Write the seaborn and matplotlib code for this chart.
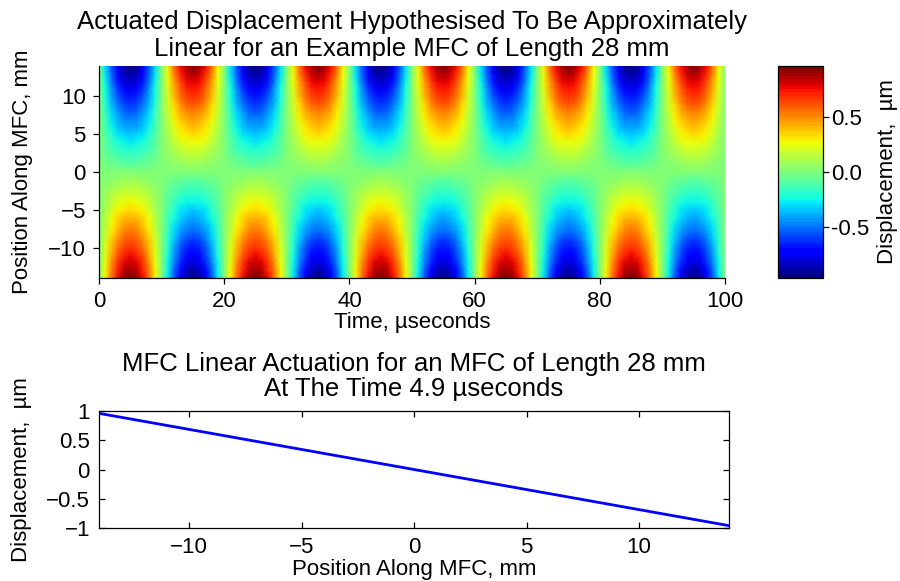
import numpy as np
import matplotlib
matplotlib.use("Agg")
import matplotlib.pyplot as plt
import seaborn as sns

# ---------------- data ----------------
# time axis of the field (µs) and amplitude of the actuation at each time step
time_us = list(range(0, 101))
time_amp = [
    0.00, 0.30, 0.57, 0.78, 0.92, 0.97, 0.92, 0.78, 0.57, 0.30,
    0.00, -0.29, -0.56, -0.77, -0.90, -0.95, -0.90, -0.77, -0.56, -0.29,
    0.00, 0.30, 0.57, 0.78, 0.92, 0.97, 0.92, 0.78, 0.57, 0.30,
    0.00, -0.29, -0.56, -0.77, -0.90, -0.95, -0.90, -0.77, -0.56, -0.29,
    0.00, 0.30, 0.57, 0.78, 0.92, 0.97, 0.92, 0.78, 0.57, 0.30,
    0.00, -0.29, -0.56, -0.77, -0.90, -0.95, -0.90, -0.77, -0.56, -0.29,
    0.00, 0.30, 0.57, 0.78, 0.92, 0.97, 0.92, 0.78, 0.57, 0.30,
    0.00, -0.29, -0.56, -0.77, -0.90, -0.95, -0.90, -0.77, -0.56, -0.29,
    0.00, 0.30, 0.57, 0.78, 0.92, 0.97, 0.92, 0.78, 0.57, 0.30,
    0.00, -0.29, -0.56, -0.77, -0.90, -0.95, -0.90, -0.77, -0.56, -0.29,
    0.00,
]
# position along the MFC (mm) and normalised linear shape of the actuation
position_mm = list(range(-14, 15))
position_shape = [
    1.000, 0.929, 0.857, 0.786, 0.714, 0.643, 0.571, 0.500, 0.429, 0.357,
    0.286, 0.214, 0.143, 0.071, 0.000, -0.071, -0.143, -0.214, -0.286,
    -0.357, -0.429, -0.500, -0.571, -0.643, -0.714, -0.786, -0.857,
    -0.929, -1.000,
]

# line plot at t = 4.9 µs
line_pos_mm = [-14, 14]
line_disp_um = [0.96, -0.96]

top_xticks = [0, 20, 40, 60, 80, 100]
top_yticks = [-10, -5, 0, 5, 10]
cbar_ticks = [0.5, 0.0, -0.5]
cbar_ticklabels = ["0.5", "0.0", "-0.5"]
bot_xticks = [-10, -5, 0, 5, 10]
bot_yticks = [-1, -0.5, 0, 0.5, 1]
bot_yticklabels = ["\u22121", "\u22120.5", "0", "0.5", "1"]

# ---------------- style ----------------
sns.set_theme(style="white")
plt.rcParams["font.family"] = ["Liberation Sans", "DejaVu Sans"]
FS = 16
TFS = 18.5
plt.rcParams.update({
    "axes.edgecolor": "black",
    "axes.linewidth": 0.9,
    "xtick.color": "black",
    "ytick.color": "black",
    "text.color": "black",
    "axes.labelcolor": "black",
})

fig = plt.figure(figsize=(9, 5.81), dpi=100)
W, H = 900, 581

def rect(l, t, r, b):
    return [l / W, 1 - b / H, (r - l) / W, (b - t) / H]

ax1 = fig.add_axes(rect(99, 66, 725, 278))
cax = fig.add_axes(rect(778, 66, 823, 278))
ax2 = fig.add_axes(rect(99, 411, 729, 528))

# ---------------- top: field ----------------
T, X = np.meshgrid(np.array(time_us, float), np.array(position_mm, float))
Z = np.outer(np.array(position_shape), np.array(time_amp))
mesh = ax1.pcolormesh(T, X, Z, cmap=plt.get_cmap("jet", 64), shading="gouraud",
                      vmin=Z.min(), vmax=Z.max(), rasterized=True)
ax1.set_xlim(0, 100)
ax1.set_ylim(-14, 14)
ax1.set_xticks(top_xticks)
ax1.set_yticks(top_yticks)
ax1.tick_params(axis="both", direction="out", length=4, width=0.9,
                labelsize=FS, left=True, bottom=True)
ax1.tick_params(axis="y", pad=5.5)
ax1.tick_params(axis="x", pad=5)
for s in ["top", "right"]:
    ax1.spines[s].set_visible(False)
ax1.set_xlabel("Time, µseconds", fontsize=FS, labelpad=0)
ax1.set_ylabel("Position Along MFC, mm", fontsize=FS)
ax1.yaxis.set_label_coords(-0.105, 0.5)
ax1.set_title("Actuated Displacement Hypothesised To Be Approximately\n"
              "Linear for an Example MFC of Length 28 mm",
              fontsize=TFS, pad=7, linespacing=1.15)

cb = fig.colorbar(mesh, cax=cax)
cb.set_ticks(cbar_ticks)
cb.set_ticklabels(cbar_ticklabels)
cb.ax.tick_params(direction="out", length=4, width=0.9, labelsize=FS, pad=2)
cb.outline.set_linewidth(0.9)
cb.outline.set_edgecolor("black")
cb.set_label("Displacement,  µm", fontsize=FS)
cb.ax.yaxis.set_label_coords(2.2, 0.5)

# ---------------- bottom: line ----------------
sns.lineplot(x=line_pos_mm, y=line_disp_um, ax=ax2, color=(0, 0, 1),
             linewidth=2.0)
ax2.set_xlim(-14, 14)
ax2.set_ylim(-1, 1)
ax2.set_xticks(bot_xticks)
ax2.set_yticks(bot_yticks)
ax2.set_yticklabels(bot_yticklabels)
ax2.tick_params(axis="both", direction="in", length=4, width=0.9,
                labelsize=FS, top=True, right=True, left=True, bottom=True)
ax2.tick_params(axis="y", pad=6.5)
ax2.tick_params(axis="x", pad=6.5)
for s in ax2.spines.values():
    s.set_visible(True)
    s.set_color("black")
ax2.set_xlabel("Position Along MFC, mm", fontsize=FS, labelpad=1)
ax2.set_ylabel("Displacement,  µm", fontsize=FS)
ax2.yaxis.set_label_coords(-0.106, 0.5)
ax2.set_title("MFC Linear Actuation for an MFC of Length 28 mm\n"
              "At The Time 4.9 µseconds",
              fontsize=TFS, pad=10.5, linespacing=1.05)

fig.savefig("out.png", dpi=100)
